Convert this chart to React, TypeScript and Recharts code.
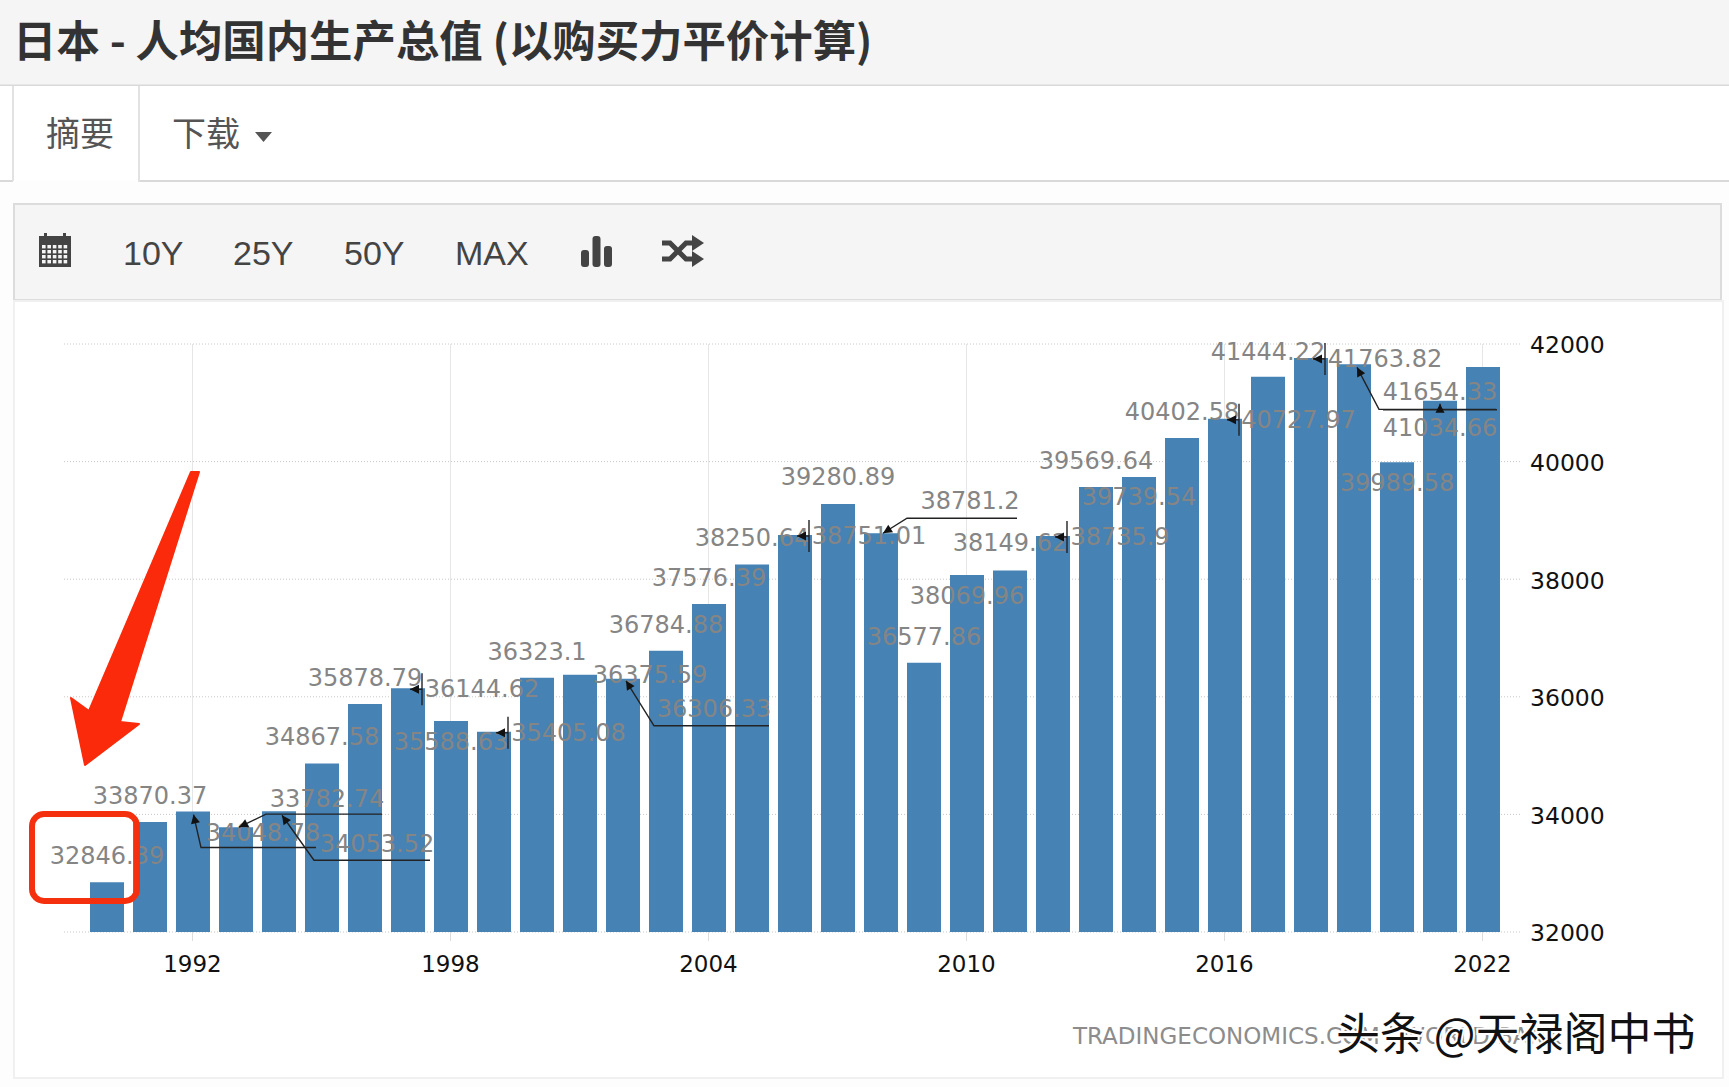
import React from "react";
import { BarChart, Bar, XAxis, YAxis, CartesianGrid, LabelList } from "recharts";

const years = [1990,1991,1992,1993,1994,1995,1996,1997,1998,1999,2000,2001,2002,2003,2004,2005,2006,2007,2008,2009,2010,2011,2012,2013,2014,2015,2016,2017,2018,2019,2020,2021,2022];
const values = [32846.39,33870.37,34048.78,33782.74,34053.52,34867.58,35878.79,36144.62,35588.63,35405.08,36323.1,36375.59,36306.33,36784.88,37576.39,38250.64,38751.01,39280.89,38781.2,36577.86,38069.96,38149.62,38735.9,39569.64,39739.54,40402.58,40727.97,41444.22,41763.82,41654.33,39989.58,41034.66,41610];
const labelTexts = ["32846.39","33870.37","34048.78","33782.74","34053.52","34867.58","35878.79","36144.62","35588.63","35405.08","36323.1","36375.59","36306.33","36784.88","37576.39","38250.64","38751.01","39280.89","38781.2","36577.86","38069.96","38149.62","38735.9","39569.64","39739.54","40402.58","40727.97","41444.22","41763.82","41654.33","39989.58","41034.66",""];
const xTicks = [1992,1998,2004,2010,2016,2022];
const yTicks = [32000,34000,36000,38000,40000,42000];

// label placement, relative to the top-centre of each bar
const labelDx = [0,0,70,91,98,0,0,74,0,74.5,0,70,91,0,0,0,74,0,89,0,0,0,67,0,0,0,73.5,0,74,86,0,0,0];
const labelDy = [-26,-26,21,-28,33,-26,-26,1,21,1,-26,0,30,-26,-26,-26,1,-27,-32,-26,21,-27,1,-26,20,-26,1,-25,1,28,21,27,1];
type P = [number, number];
const elbow = (a: P, b: P, c: P) => ({ line: [a, b, c] as P[] });
const bracket = { line: [[2, 1], [14, 1]] as P[], bar: [[14, -15], [14, 17]] as P[] };
const leaders: Record<number, { line: P[]; bar?: P[] }> = {
  2: elbow([0.5, 3], [8, 36], [123, 36]),
  3: elbow([3, 0], [30, -13], [146, -13]),
  4: elbow([3, 4], [35, 49], [151, 49]),
  7: bracket,
  9: bracket,
  12: elbow([3, 2], [31, 47], [146, 47]),
  16: bracket,
  18: elbow([2, 0], [26, -15], [136, -15]),
  22: bracket,
  26: bracket,
  28: bracket,
  29: elbow([3, 3], [25, 45], [142, 45]),
  31: { line: [[0, 3], [0, 9]], bar: [[-57, 9], [57, 9]] },
};

const chartData = years.map((year, i) => ({ year, value: values[i] }));
const LABEL_FONT = "'DejaVu Sans', sans-serif";

function BarLabel(props: any) {
  const { x, y, width, index } = props;
  const cx = x + width / 2;
  const text = labelTexts[index];
  if (!text) return null;
  const leader = leaders[index];
  let head = null;
  if (leader) {
    const [a, b] = leader.line;
    const ang = Math.atan2(b[1] - a[1], b[0] - a[0]);
    const L = 9, W = 4.5;
    const tx = cx + a[0], ty = y + a[1];
    const bx = tx + L * Math.cos(ang), by = ty + L * Math.sin(ang);
    const nx = -Math.sin(ang) * W, ny = Math.cos(ang) * W;
    head = <polygon points={`${tx},${ty} ${bx + nx},${by + ny} ${bx - nx},${by - ny}`} fill="#111" />;
  }
  const pts = (l: P[]) => l.map((p) => `${cx + p[0]},${y + p[1]}`).join(" ");
  return (
    <g>
      {leader && <polyline points={pts(leader.line)} fill="none" stroke="#222" strokeWidth={1.4} />}
      {leader?.bar && <polyline points={pts(leader.bar)} fill="none" stroke="#222" strokeWidth={1.4} />}
      {head}
      <text x={cx + labelDx[index]} y={y + labelDy[index]} textAnchor="middle" dominantBaseline="central"
        fontFamily={LABEL_FONT} fontSize={24} fill="#858585">{text}</text>
    </g>
  );
}

const CJK = "'Noto Sans CJK SC', sans-serif";
const SANS = "'Liberation Sans', Arial, sans-serif";

function PageChrome() {
  const calCells = [];
  for (let r = 0; r < 4; r++) for (let c = 0; c < 5; c++)
    calCells.push(<rect key={`${r}-${c}`} x={42 + c * 5.4} y={245 + r * 5} width={3.6} height={3.4} fill="#f5f5f5" />);
  return (
    <svg width={1729} height={1087} style={{ position: "absolute", left: 0, top: 0 }}>
      <rect x={0} y={0} width={1729} height={1087} fill="#fdfdfd" />
      <rect x={0} y={0} width={1729} height={85} fill="#f5f5f5" />
      <line x1={0} y1={85.5} x2={1729} y2={85.5} stroke="#d9d9d9" strokeWidth={2} />
      <text x={13} y={57} fontFamily={CJK} fontWeight={700} fontSize={43.4} fill="#333">日本 - 人均国内生产总值 (以购买力平价计算)</text>
      <rect x={0} y={86} width={1729} height={95} fill="#fff" />
      <line x1={0} y1={181} x2={13} y2={181} stroke="#d9d9d9" strokeWidth={2} />
      <line x1={139} y1={181} x2={1729} y2={181} stroke="#d9d9d9" strokeWidth={2} />
      <line x1={13} y1={86} x2={13} y2={181} stroke="#e2e2e2" strokeWidth={2} />
      <line x1={139} y1={86} x2={139} y2={182} stroke="#e2e2e2" strokeWidth={2} />
      <text x={46} y={146} fontFamily={CJK} fontSize={34} fill="#555">摘要</text>
      <text x={172} y={146} fontFamily={CJK} fontSize={34} fill="#555">下载</text>
      <polygon points="255,132 272,132 263.5,142" fill="#555" />

      <rect x={14} y={204} width={1707} height={96} fill="#f5f5f5" stroke="#dcdcdc" strokeWidth={2} />
      <rect x={39} y={236} width={32} height={31} fill="#444" />
      <rect x={44} y={233} width={3} height={6} fill="#444" />
      <rect x={63} y={233} width={3} height={6} fill="#444" />
      {calCells}
      <text x={123} y={265} fontFamily={SANS} fontSize={34} fill="#444">10Y</text>
      <text x={233} y={265} fontFamily={SANS} fontSize={34} fill="#444">25Y</text>
      <text x={344} y={265} fontFamily={SANS} fontSize={34} fill="#444">50Y</text>
      <text x={455} y={265} fontFamily={SANS} fontSize={34} fill="#444">MAX</text>
      <rect x={581} y={250} width={8} height={17} rx={3} fill="#444" />
      <rect x={592.5} y={236} width={8} height={31} rx={3} fill="#444" />
      <rect x={604} y={246} width={8} height={21} rx={3} fill="#444" />
      <path d="M662 243 h8 l16 16 h8 M662 259 h8 l16 -16 h8" fill="none" stroke="#444" strokeWidth={5} />
      <polygon points="692,235 704,243 692,251" fill="#444" />
      <polygon points="692,251 704,259 692,267" fill="#444" />

      <rect x={14} y={301} width={1709} height={777} fill="#fff" stroke="#f0f0f0" strokeWidth={2} />
    </svg>
  );
}

function Overlay() {
  return (
    <svg width={1729} height={1087} style={{ position: "absolute", left: 0, top: 0, pointerEvents: "none" }}>
      <text x={1073} y={1044} fontFamily={LABEL_FONT} fontSize={23} fill="#8c8c8c">TRADINGECONOMICS.COM | WORLD BANK</text>
      <text x={1336} y={1050} fontFamily={CJK} fontSize={44} fill="#111" stroke="#fff" strokeWidth={4} paintOrder="stroke">头条 @天禄阁中书</text>
      <rect x={32} y={814} width={105} height={87} rx={12} fill="none" stroke="#f5300f" strokeWidth={6} />
      <polygon points="191,472 199,472 120,722 139,724 85,765 71,698 89,711" fill="#fa2a0a" stroke="#fa2a0a" strokeWidth={2} strokeLinejoin="round" />
    </svg>
  );
}

export default function App() {
  return (
    <div style={{ position: "absolute", left: 0, top: 0, width: 1729, height: 1087, overflow: "hidden" }}>
      <PageChrome />
      <div style={{ position: "absolute", left: 0, top: 0 }}>
        <BarChart width={1729} height={1087} data={chartData} barSize={34}
          margin={{ top: 344, right: 117, bottom: 115, left: 64 }}>
          <CartesianGrid stroke="#c8c8c8" strokeDasharray="1 2" vertical={false} syncWithTicks />
          <CartesianGrid stroke="#e6e6e6" horizontal={false} syncWithTicks />
          <XAxis dataKey="year" type="category" ticks={xTicks} interval={0} height={40}
            padding={{ left: 21, right: 18 }}
            axisLine={false} tickLine={{ stroke: "#ddd" }} tickSize={9} tickMargin={15}
            tick={{ fontFamily: LABEL_FONT, fontSize: 23, fill: "#111" }} />
          <YAxis orientation="right" domain={[32000, 42000]} ticks={yTicks} interval={0} width={90}
            axisLine={false} tickLine={false} tickSize={0} tickMargin={8} dy={1}
            tick={{ fontFamily: LABEL_FONT, fontSize: 23.5, fill: "#111", dy: 1 }} />
          <Bar dataKey="value" fill="#4682b4" isAnimationActive={false}>
            <LabelList dataKey="value" content={BarLabel} />
          </Bar>
        </BarChart>
      </div>
      <Overlay />
    </div>
  );
}
